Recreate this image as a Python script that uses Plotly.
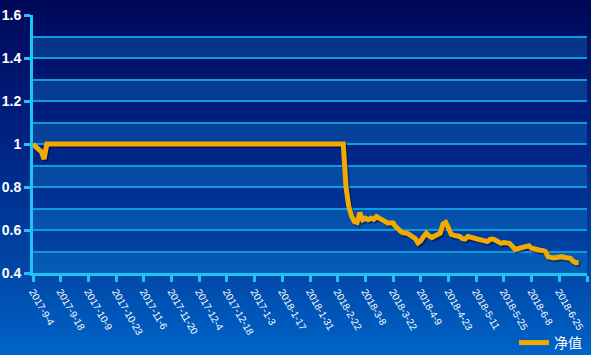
import base64
import plotly.graph_objects as go

# ---- data ----
tick_labels = ["2017-9-4", "2017-9-18", "2017-10-9", "2017-10-23", "2017-11-6",
               "2017-11-20", "2017-12-4", "2017-12-18", "2017-1-3", "2018-1-17",
               "2018-1-31", "2018-2-22", "2018-3-8", "2018-3-22", "2018-4-9",
               "2018-4-23", "2018-5-11", "2018-5-25", "2018-6-8", "2018-6-25", ""]
tick_positions = [0, 10, 20, 30, 40, 50, 60, 70, 80, 90, 100,
                  110, 120, 130, 140, 150, 160, 170, 180, 190, 200]

nav_start = [1.0, 0.985, 0.975, 0.965, 0.93]
nav_flat = [
    1.0, 1.0, 1.0, 1.0, 1.0, 1.0, 1.0, 1.0, 1.0,
    1.0, 1.0, 1.0, 1.0, 1.0, 1.0, 1.0, 1.0, 1.0,
    1.0, 1.0, 1.0, 1.0, 1.0, 1.0, 1.0, 1.0, 1.0,
    1.0, 1.0, 1.0, 1.0, 1.0, 1.0, 1.0, 1.0, 1.0,
    1.0, 1.0, 1.0, 1.0, 1.0, 1.0, 1.0, 1.0, 1.0,
    1.0, 1.0, 1.0, 1.0, 1.0, 1.0, 1.0, 1.0, 1.0,
    1.0, 1.0, 1.0, 1.0, 1.0, 1.0, 1.0, 1.0, 1.0,
    1.0, 1.0, 1.0, 1.0, 1.0, 1.0, 1.0, 1.0, 1.0,
    1.0, 1.0, 1.0, 1.0, 1.0, 1.0, 1.0, 1.0, 1.0,
    1.0, 1.0, 1.0, 1.0, 1.0, 1.0, 1.0, 1.0, 1.0,
    1.0, 1.0, 1.0, 1.0, 1.0, 1.0, 1.0, 1.0, 1.0,
    1.0, 1.0, 1.0, 1.0, 1.0, 1.0, 1.0, 1.0, 1.0,
]
nav_tail = [
    0.80, 0.71, 0.665, 0.64, 0.635, 0.68, 0.648, 0.655, 0.648, 0.655,
    0.65, 0.662, 0.655, 0.65, 0.64, 0.632, 0.63, 0.632, 0.615, 0.598,
    0.59, 0.586, 0.585, 0.577, 0.57, 0.56, 0.54, 0.55, 0.57, 0.585,
    0.572, 0.565, 0.572, 0.58, 0.585, 0.628, 0.635, 0.61, 0.58, 0.575,
    0.572, 0.57, 0.56, 0.558, 0.57, 0.565, 0.562, 0.56, 0.556, 0.553,
    0.55, 0.546, 0.556, 0.558, 0.552, 0.545, 0.538, 0.542, 0.54, 0.538,
    0.525, 0.51, 0.513, 0.518, 0.52, 0.524, 0.527, 0.515, 0.51, 0.507,
    0.506, 0.505, 0.5, 0.475, 0.47, 0.47, 0.472, 0.474, 0.476, 0.472,
    0.47, 0.468, 0.455, 0.448, 0.448,
]
nav = nav_start + nav_flat + nav_tail
idx = list(range(len(nav)))
series_name = "净值"

# ---- layout geometry ----
W, H = 591, 355
ML, MR, MT, MB = 33, 4, 15, 82
PW, PH = W - ML - MR, H - MT - MB

CYAN = "#1ec4f4"
GRID = "#0e9ade"
LINE = "#f2a900"

svg = (
    '<svg xmlns="http://www.w3.org/2000/svg" width="591" height="355" preserveAspectRatio="none">'
    '<defs><linearGradient id="g" x1="0" y1="0" x2="0" y2="1">'
    '<stop offset="0" stop-color="#000858"/>'
    '<stop offset="0.4" stop-color="#002384"/>'
    '<stop offset="0.77" stop-color="#0048a8"/>'
    '<stop offset="1" stop-color="#0064c8"/>'
    '</linearGradient></defs>'
    '<rect width="591" height="355" fill="url(#g)"/></svg>'
)
bg_uri = "data:image/svg+xml;base64," + base64.b64encode(svg.encode()).decode()

fig = go.Figure()
# soft shadow under the line
fig.add_trace(go.Scatter(
    x=[i + 0.5 for i in idx], y=[v - 0.008 for v in nav],
    mode="lines", line=dict(color="rgba(0,0,30,0.45)", width=5),
    showlegend=False, hoverinfo="skip"))
fig.add_trace(go.Scatter(
    x=idx, y=nav, mode="lines", name=series_name,
    line=dict(color=LINE, width=5)))

shapes = []
for k in range(6):
    lo = 0.4 + 0.2 * k
    shapes.append(dict(type="rect", xref="paper", yref="y", x0=0, x1=1,
                       y0=lo, y1=lo + 0.1, layer="below", line=dict(width=0),
                       fillcolor="rgba(20,140,215,0.30)"))

fig.update_layout(
    width=W, height=H,
    margin=dict(l=ML, r=MR, t=MT, b=MB, autoexpand=False),
    paper_bgcolor="#0030a0",
    plot_bgcolor="rgba(0,0,0,0)",
    images=[dict(source=bg_uri, xref="paper", yref="paper",
                 x=-ML / PW, y=1 + MT / PH, sizex=W / PW, sizey=H / PH,
                 xanchor="left", yanchor="top", sizing="stretch", layer="below")],
    shapes=shapes,
    showlegend=True,
    legend=dict(x=1, xanchor="right", y=-(343 - 273) / PH, yanchor="middle",
                bgcolor="rgba(0,0,0,0)",
                font=dict(family="Noto Sans CJK SC", size=14, color="white")),
    xaxis=dict(range=[0, 200], tickmode="array", tickvals=tick_positions,
               ticktext=tick_labels, tickangle=60, automargin=False,
               tickfont=dict(family="Arial, Liberation Sans", size=10, color="white"),
               showline=True, linecolor=CYAN, linewidth=3,
               ticks="outside", ticklen=6, tickwidth=3, tickcolor=CYAN,
               showgrid=False, zeroline=False, fixedrange=True),
    yaxis=dict(range=[0.4, 1.6], tickmode="array", automargin=False,
               tickvals=[0.4, 0.6, 0.8, 1.0, 1.2, 1.4, 1.6],
               ticktext=["0.4", "0.6", "0.8", "1", "1.2", "1.4", "1.6"],
               tickfont=dict(family="Arial, Liberation Sans", size=14, color="white",
                             weight="bold"),
               showline=True, linecolor=CYAN, linewidth=3,
               ticks="outside", ticklen=6, tickwidth=3, tickcolor=CYAN,
               showgrid=True, gridcolor=GRID, gridwidth=2,
               minor=dict(dtick=0.1, tick0=0.4, showgrid=True, gridcolor=GRID, gridwidth=2),
               zeroline=False, fixedrange=True),
)

fig.write_html("out.html")
